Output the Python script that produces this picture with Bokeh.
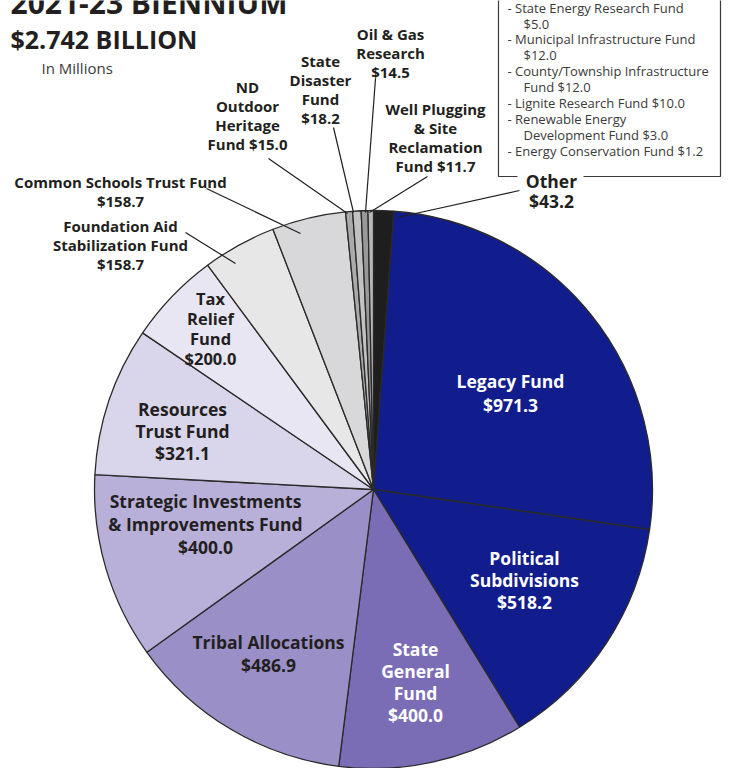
import math
from bokeh.plotting import figure
from bokeh.models import Range1d, ColumnDataSource
from bokeh.core.properties import value
from bokeh.embed import file_html
from bokeh.resources import INLINE

# ---------------- data ----------------
categories = ["Other", "Legacy Fund", "Political Subdivisions", "State General Fund",
              "Tribal Allocations", "Strategic Investments & Improvements Fund",
              "Resources Trust Fund", "Tax Relief Fund", "Foundation Aid Stabilization Fund",
              "Common Schools Trust Fund", "ND Outdoor Heritage Fund", "State Disaster Fund",
              "Oil & Gas Research", "Well Plugging & Site Reclamation Fund"]
values = [43.2, 971.3, 518.2, 400.0, 486.9, 400.0, 321.1, 200.0, 158.7, 158.7,
          15.0, 18.2, 14.5, 11.7]
colors = ["#1e1e1e", "#121d8d", "#121d8d", "#7b6db5", "#9a8fc7", "#b8b0d9",
          "#d9d5eb", "#e8e6f2", "#e7e7e7", "#d8d8da", "#aaaaaa", "#c2c2c2",
          "#999999", "#b8b8b8"]

other_items = ["- State Energy Research Fund", "$5.0",
               "- Municipal Infrastructure Fund", "$12.0",
               "- County/Township Infrastructure", "Fund $12.0",
               "- Lignite Research Fund $10.0",
               "- Renewable Energy", "Development Fund $3.0",
               "- Energy Conservation Fund $1.2"]

title1 = "2021-23 BIENNIUM"
title2 = "$2.742 BILLION"
subtitle = "In Millions"

# ---------------- layout (screen px) ----------------
W, H = 730, 768
SH = 768  # screen height used for coordinate flip


def sy(y):
    return SH - y


p = figure(width=W, height=H, output_backend="svg", toolbar_location=None,
           x_range=Range1d(0, W), y_range=Range1d(SH - H, SH),
           min_border=0, outline_line_color=None)
p.axis.visible = False
p.grid.visible = False
p.background_fill_color = "white"
p.border_fill_color = "white"

# pie
cx, cy, r = 373, sy(489), 279
total = sum(values)
starts, ends = [], []
acc = 0.0
for v in values:
    a0 = math.pi / 2 - acc / total * 2 * math.pi
    acc += v
    a1 = math.pi / 2 - acc / total * 2 * math.pi
    starts.append(a0)
    ends.append(a1)
src = ColumnDataSource(dict(cat=categories, val=values, start=starts, end=ends,
                            color=colors))
p.wedge(x=cx, y=cy, radius=r, start_angle="start", end_angle="end",
        direction="clock", fill_color="color", line_color="#2a2a2a",
        line_width=1.3, source=src)

FONT = "Open Sans"


def label(lines, x, y0, dy, size, color="#231f20", style="bold", align="center"):
    ys = [sy(y0 + i * dy) for i in range(len(lines))]
    p.text(x=[x] * len(lines), y=ys, text=lines, text_align=align,
           text_baseline="middle", text_font=value(FONT),
           text_font_style=style, text_font_size=value(f"{size}px"),
           text_color=color)


# titles
p.text(x=[10], y=[sy(2)], text=[title1], text_align="left", text_baseline="middle",
       text_font=value(FONT), text_font_style="bold", text_font_size=value("30px"),
       text_color="#231f20")
p.text(x=[10], y=[sy(38)], text=[title2], text_align="left", text_baseline="middle",
       text_font=value(FONT), text_font_style="bold", text_font_size=value("25px"),
       text_color="#231f20")
p.text(x=[41], y=[sy(67)], text=[subtitle], text_align="left", text_baseline="middle",
       text_font=value(FONT), text_font_size=value("15px"), text_color="#3a3a3a")

# inside labels
label(["Legacy Fund", "$971.3"], 510, 380, 24, 17.5, color="white")
label(["Political", "Subdivisions", "$518.2"], 524, 557, 22, 17.5, color="white")
label(["State", "General", "Fund", "$400.0"], 415, 648, 22, 17.5, color="white")
label(["Tribal Allocations", "$486.9"], 268, 641, 23, 17.5)
label(["Strategic Investments", "& Improvements Fund", "$400.0"], 205, 500, 23, 17.5)
label(["Resources", "Trust Fund", "$321.1"], 182, 408, 22, 17.5)
label(["Tax", "Relief", "Fund", "$200.0"], 210, 298, 20, 16.5)

# outside labels
label(["Common Schools Trust Fund", "$158.7"], 120, 181, 19, 15)
label(["Foundation Aid", "Stabilization Fund", "$158.7"], 120, 225, 19, 15)
label(["ND", "Outdoor", "Heritage", "Fund $15.0"], 247, 86, 19, 15)
label(["State", "Disaster", "Fund", "$18.2"], 320, 60, 19, 15)
label(["Oil & Gas", "Research", "$14.5"], 390, 33, 19, 15)
label(["Well Plugging", "& Site", "Reclamation", "Fund $11.7"], 435, 108, 19, 15)
label(["Other", "$43.2"], 551, 180, 20, 17.5)

# leader lines
leaders = [((206, 188), (300, 233)), ((185, 232), (235, 263)),
           ((268, 158), (347, 213)), ((333, 127), (353, 212)),
           ((375, 78), (365, 212)), ((427, 176), (369, 212)),
           ((519, 190), (397, 217))]
p.multi_line(xs=[[a[0], b[0]] for a, b in leaders],
             ys=[[sy(a[1]), sy(b[1])] for a, b in leaders],
             line_color="#231f20", line_width=1.2)

# "Other" box
box_x0, box_x1, box_y1 = 498, 720, 176
p.multi_line(xs=[[box_x0, box_x0, 517], [583, box_x1, box_x1]],
             ys=[[sy(-10), sy(box_y1), sy(box_y1)], [sy(box_y1), sy(box_y1), sy(-10)]],
             line_color="#3a3a3a", line_width=1.2)

item_y = [7, 23, 38, 54, 70, 86, 102, 118, 134, 150]
item_x = [507 if t.startswith("-") else 523 for t in other_items]
p.text(x=item_x, y=[sy(v) for v in item_y], text=other_items, text_align="left",
       text_baseline="middle", text_font=value(FONT), text_font_size=value("13px"),
       text_color="#3a3a3a")

open("out.html", "w").write(file_html(p, INLINE))
